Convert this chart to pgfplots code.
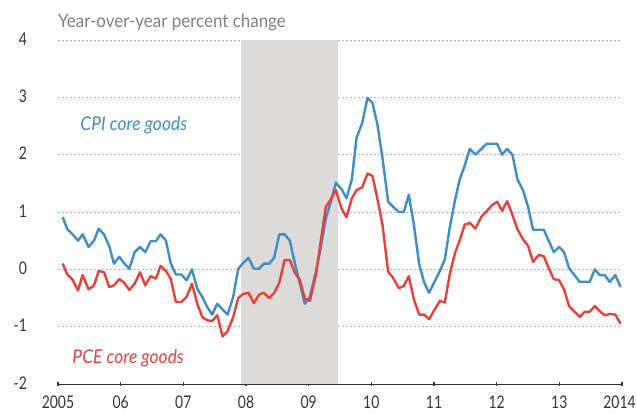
\documentclass[border=0pt]{standalone}
\usepackage{fontspec}
\setmainfont{Lato}[FakeStretch=0.92]
\newfontfamily\tickfont{Lato}[FakeStretch=0.8]
\usepackage{pgfplots}
\pgfplotsset{compat=1.18}
\definecolor{cpiblue}{HTML}{3C8DC8}
\definecolor{pcered}{HTML}{E8413A}
\definecolor{shade}{HTML}{DCDBDA}
\definecolor{gridgray}{HTML}{B4B4B4}
\definecolor{titlegray}{HTML}{808080}
\definecolor{axisdark}{HTML}{333333}
\begin{document}
\begin{tikzpicture}
\begin{axis}[
  at={(58bp,30bp)}, anchor=south west,
  scale only axis, width=564bp, height=344bp,
  xmin=2005, xmax=2014, ymin=-2, ymax=4,
  xtick={2005,2006,2007,2008,2009,2010,2011,2012,2013,2014},
  xticklabels={2005,06,07,08,09,10,11,12,13,\kern-5bp 2014},
  ytick={-2,-1,0,1,2,3,4},
  yticklabels={-2,-1,0,1,2,3,4},
  axis x line*=bottom, axis y line*=left,
  x axis line style={-, color=axisdark, line width=0.8bp},
  y axis line style={draw=none},
  ytick style={draw=none},
  xtick style={color=axisdark, line width=1.2bp},
  major tick length=3bp, tick align=center,
  ymajorgrids, grid style={dash pattern=on 2bp off 2bp, color=gridgray, line width=0.6bp},
  tick label style={font=\tickfont\fontsize{17.5}{19}\selectfont, color=axisdark},
  yticklabel style={anchor=east, xshift=-26bp, yshift=1bp},
  xticklabel style={anchor=north, yshift=-7bp},
  clip=false,
]
\addplot[draw=none, fill=shade] coordinates {(2007.92,-2) (2007.92,4) (2009.47,4) (2009.47,-2)} -- cycle;
\addplot[color=cpiblue, line width=2.4bp, line join=round] coordinates {
(2005.074,0.91)(2005.149,0.70)(2005.234,0.61)(2005.319,0.50)(2005.393,0.61)(2005.489,0.39)(2005.574,0.50)(2005.649,0.71)(2005.734,0.61)(2005.819,0.40)(2005.893,0.10)(2005.978,0.22)(2006.053,0.11)(2006.138,0.01)(2006.223,0.30)(2006.308,0.39)(2006.393,0.30)(2006.478,0.49)(2006.563,0.49)(2006.637,0.61)(2006.722,0.50)(2006.797,0.11)(2006.882,-0.09)(2006.967,-0.09)(2007.052,-0.19)(2007.137,0.00)(2007.222,-0.34)(2007.302,-0.48)(2007.382,-0.66)(2007.461,-0.79)(2007.541,-0.60)(2007.626,-0.70)(2007.706,-0.79)(2007.796,-0.48)(2007.876,0.01)(2007.956,0.11)(2008.041,0.20)(2008.126,0.01)(2008.211,0.01)(2008.285,0.10)(2008.370,0.10)(2008.450,0.20)(2008.530,0.61)(2008.615,0.61)(2008.700,0.50)(2008.780,0.10)(2008.860,-0.25)(2008.939,-0.60)(2009.019,-0.48)(2009.115,-0.05)(2009.195,0.39)(2009.274,0.89)(2009.354,1.18)(2009.434,1.51)(2009.524,1.40)(2009.604,1.24)(2009.689,1.57)(2009.763,2.29)(2009.854,2.55)(2009.939,2.99)(2010.019,2.90)(2010.098,2.52)(2010.178,1.94)(2010.268,1.18)(2010.348,1.09)(2010.439,1.00)(2010.518,1.00)(2010.598,1.30)(2010.678,0.79)(2010.763,0.09)(2010.843,-0.23)(2010.922,-0.41)(2011.002,-0.23)(2011.093,-0.03)(2011.172,0.17)(2011.252,0.73)(2011.332,1.19)(2011.411,1.57)(2011.491,1.81)(2011.571,2.10)(2011.661,2.00)(2011.757,2.10)(2011.837,2.19)(2011.920,2.19)(2012.007,2.19)(2012.087,2.00)(2012.166,2.10)(2012.251,2.00)(2012.331,1.57)(2012.421,1.38)(2012.501,1.09)(2012.581,0.69)(2012.671,0.69)(2012.751,0.69)(2012.831,0.50)(2012.911,0.30)(2012.996,0.39)(2013.075,0.30)(2013.155,0.02)(2013.235,-0.09)(2013.325,-0.22)(2013.405,-0.22)(2013.485,-0.22)(2013.565,0.00)(2013.644,-0.10)(2013.724,-0.10)(2013.804,-0.22)(2013.894,-0.10)(2013.979,-0.31)
};
\addplot[color=pcered, line width=2.4bp, line join=round] coordinates {
(2005.074,0.10)(2005.149,-0.09)(2005.234,-0.18)(2005.319,-0.37)(2005.393,-0.10)(2005.489,-0.35)(2005.574,-0.28)(2005.649,-0.03)(2005.734,-0.05)(2005.819,-0.31)(2005.893,-0.28)(2005.978,-0.17)(2006.053,-0.23)(2006.138,-0.36)(2006.223,-0.25)(2006.308,-0.05)(2006.393,-0.28)(2006.478,-0.12)(2006.563,-0.16)(2006.637,0.06)(2006.722,-0.03)(2006.797,-0.16)(2006.882,-0.57)(2006.967,-0.57)(2007.052,-0.48)(2007.137,-0.25)(2007.222,-0.60)(2007.302,-0.83)(2007.382,-0.89)(2007.461,-0.90)(2007.541,-0.80)(2007.626,-1.17)(2007.706,-1.08)(2007.796,-0.83)(2007.876,-0.50)(2007.956,-0.43)(2008.041,-0.41)(2008.126,-0.59)(2008.211,-0.44)(2008.285,-0.41)(2008.370,-0.50)(2008.450,-0.41)(2008.530,-0.24)(2008.615,0.16)(2008.700,0.16)(2008.780,-0.06)(2008.860,-0.19)(2008.939,-0.51)(2009.019,-0.55)(2009.115,-0.10)(2009.195,0.51)(2009.274,1.09)(2009.354,1.22)(2009.434,1.38)(2009.524,1.06)(2009.604,0.91)(2009.689,1.24)(2009.763,1.38)(2009.854,1.43)(2009.939,1.67)(2010.019,1.63)(2010.098,1.22)(2010.178,0.78)(2010.268,-0.04)(2010.348,-0.15)(2010.439,-0.33)(2010.518,-0.29)(2010.598,-0.12)(2010.678,-0.52)(2010.763,-0.79)(2010.843,-0.79)(2010.922,-0.87)(2011.002,-0.72)(2011.093,-0.55)(2011.172,-0.58)(2011.252,-0.08)(2011.332,0.27)(2011.411,0.51)(2011.491,0.78)(2011.571,0.81)(2011.661,0.71)(2011.757,0.92)(2011.837,1.01)(2011.917,1.11)(2012.007,1.18)(2012.087,1.02)(2012.166,1.19)(2012.251,0.95)(2012.331,0.70)(2012.421,0.52)(2012.501,0.41)(2012.581,0.13)(2012.671,0.25)(2012.751,0.23)(2012.831,0.02)(2012.911,-0.17)(2012.996,-0.19)(2013.075,-0.35)(2013.155,-0.64)(2013.235,-0.73)(2013.325,-0.83)(2013.405,-0.74)(2013.485,-0.74)(2013.565,-0.64)(2013.644,-0.73)(2013.724,-0.80)(2013.804,-0.78)(2013.894,-0.79)(2013.979,-0.95)
};
\node[anchor=base west, inner sep=0pt, text=titlegray, font=\fontsize{18.5}{20}\selectfont] at (rel axis cs:0,1) [yshift=13bp] {Year-over-year percent change};
\node[text=cpiblue, font=\fontsize{19}{21}\selectfont\itshape] at (axis cs:2006.21,2.51) {CPI core goods};
\node[text=pcered, font=\fontsize{19}{21}\selectfont\itshape] at (axis cs:2006.12,-1.55) {PCE core goods};
\end{axis}
\pgfresetboundingbox
\path (0,0) rectangle (637bp,414bp);
\end{tikzpicture}
\end{document}
